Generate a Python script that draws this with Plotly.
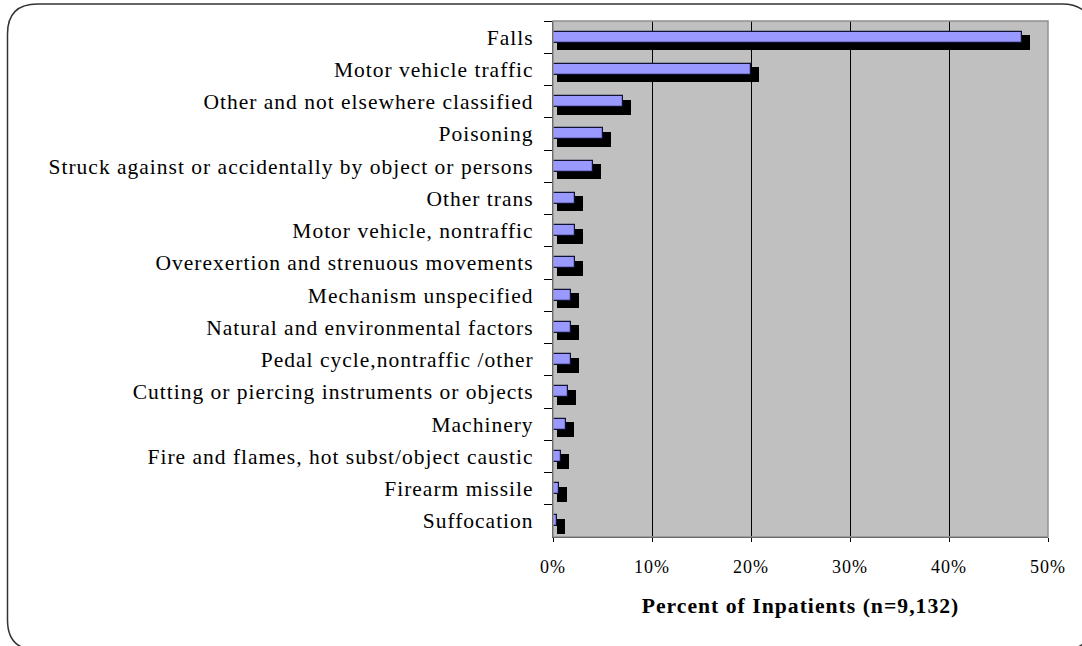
import plotly.graph_objects as go

categories = [
    "Falls",
    "Motor vehicle traffic",
    "Other and not elsewhere classified",
    "Poisoning",
    "Struck against or accidentally by object or persons",
    "Other trans",
    "Motor vehicle, nontraffic",
    "Overexertion and strenuous movements",
    "Mechanism unspecified",
    "Natural and environmental factors",
    "Pedal cycle,nontraffic /other",
    "Cutting or piercing instruments or objects",
    "Machinery",
    "Fire and flames, hot subst/object caustic",
    "Firearm missile",
    "Suffocation",
]
percent_inpatients = [47.4, 20.0, 7.1, 5.1, 4.0, 2.2, 2.2, 2.2, 1.8, 1.8, 1.8, 1.5, 1.3, 0.8, 0.6, 0.45]
x_ticks = [0, 10, 20, 30, 40, 50]
x_title = "Percent of Inpatients (n=9,132)"

# shadow style (Excel-like drop shadow)
SH_BASE = 0.4
SH_EXTRA = 0.4

W, H = 1082, 646
ML, MR, MT, MB = 553, 34, 21, 109
PW, PH = W - ML - MR, H - MT - MB

def px(x):
    return (x - ML) / PW

def py(y):
    return (H - MB - y) / PH

fig = go.Figure()
fig.add_trace(go.Bar(
    y=categories, x=[v + SH_EXTRA for v in percent_inpatients], base=SH_BASE,
    orientation="h", marker=dict(color="#000000", line=dict(width=0)),
    width=0.465, offset=-0.062, hoverinfo="skip", showlegend=False,
))
fig.add_trace(go.Bar(
    y=categories, x=percent_inpatients,
    orientation="h", marker=dict(color="#9999FF", line=dict(color="#111133", width=1.2)),
    width=0.34, offset=-0.17, showlegend=False,
))

# rounded outer border
L, T, R, B, r = 7.5, 4.0, 1092.0, 650.0, 30.0
path = (
    f"M {px(L)},{py(T + r)} Q {px(L)},{py(T)} {px(L + r)},{py(T)} "
    f"L {px(R - r)},{py(T)} Q {px(R)},{py(T)} {px(R)},{py(T + r)} "
    f"L {px(R)},{py(B - r)} Q {px(R)},{py(B)} {px(R - r)},{py(B)} "
    f"L {px(L + r)},{py(B)} Q {px(L)},{py(B)} {px(L)},{py(B - r)} Z"
)
shapes = [
    dict(type="path", xref="paper", yref="paper", path=path,
         line=dict(color="#333333", width=1.5), fillcolor="rgba(0,0,0,0)", layer="below"),
    dict(type="rect", xref="paper", yref="paper", x0=0, x1=1, y0=0, y1=1,
         line=dict(color="#909090", width=1.5), layer="above"),
]

fig.update_layout(
    width=W, height=H, autosize=False,
    margin=dict(l=ML, r=MR, t=MT, b=MB, pad=0),
    paper_bgcolor="white", plot_bgcolor="#C0C0C0",
    barmode="overlay", bargap=0,
    font=dict(family="Liberation Serif, Times New Roman, serif", color="#000000"),
    shapes=shapes,
    xaxis=dict(
        range=[0, 50], tickvals=x_ticks, ticktext=[f"{t}%" for t in x_ticks],
        showgrid=True, gridcolor="#000000", gridwidth=1, zeroline=False,
        showline=True, linecolor="#000000", linewidth=1.2,
        ticks="outside", ticklen=4, tickcolor="#000000",
        tickfont=dict(size=18), ticklabelstandoff=9,
        title=dict(text=x_title, font=dict(size=21.7, weight="bold"), standoff=22),
        fixedrange=True,
    ),
    yaxis=dict(
        type="category", categoryorder="array", categoryarray=categories,
        range=[len(categories) - 0.5, -0.5],
        showgrid=False, zeroline=False,
        showline=True, linecolor="#000000", linewidth=1.2,
        ticks="outside", tickson="boundaries", ticklen=8, tickcolor="#000000",
        tickfont=dict(size=21.5), ticklabelstandoff=14,
        fixedrange=True,
    ),
)

post = """
document.body.style.margin = '0';
document.body.style.overflow = 'hidden';
var gd = document.getElementById('{plot_id}');
function ls(){
  gd.querySelectorAll('.ytick text, .xtick text, .g-xtitle text').forEach(function(t){ t.style.letterSpacing='1px'; });
}
ls();
gd.on('plotly_afterplot', ls);
"""
fig.write_html("out.html", post_script=post, config=dict(displayModeBar=False))
